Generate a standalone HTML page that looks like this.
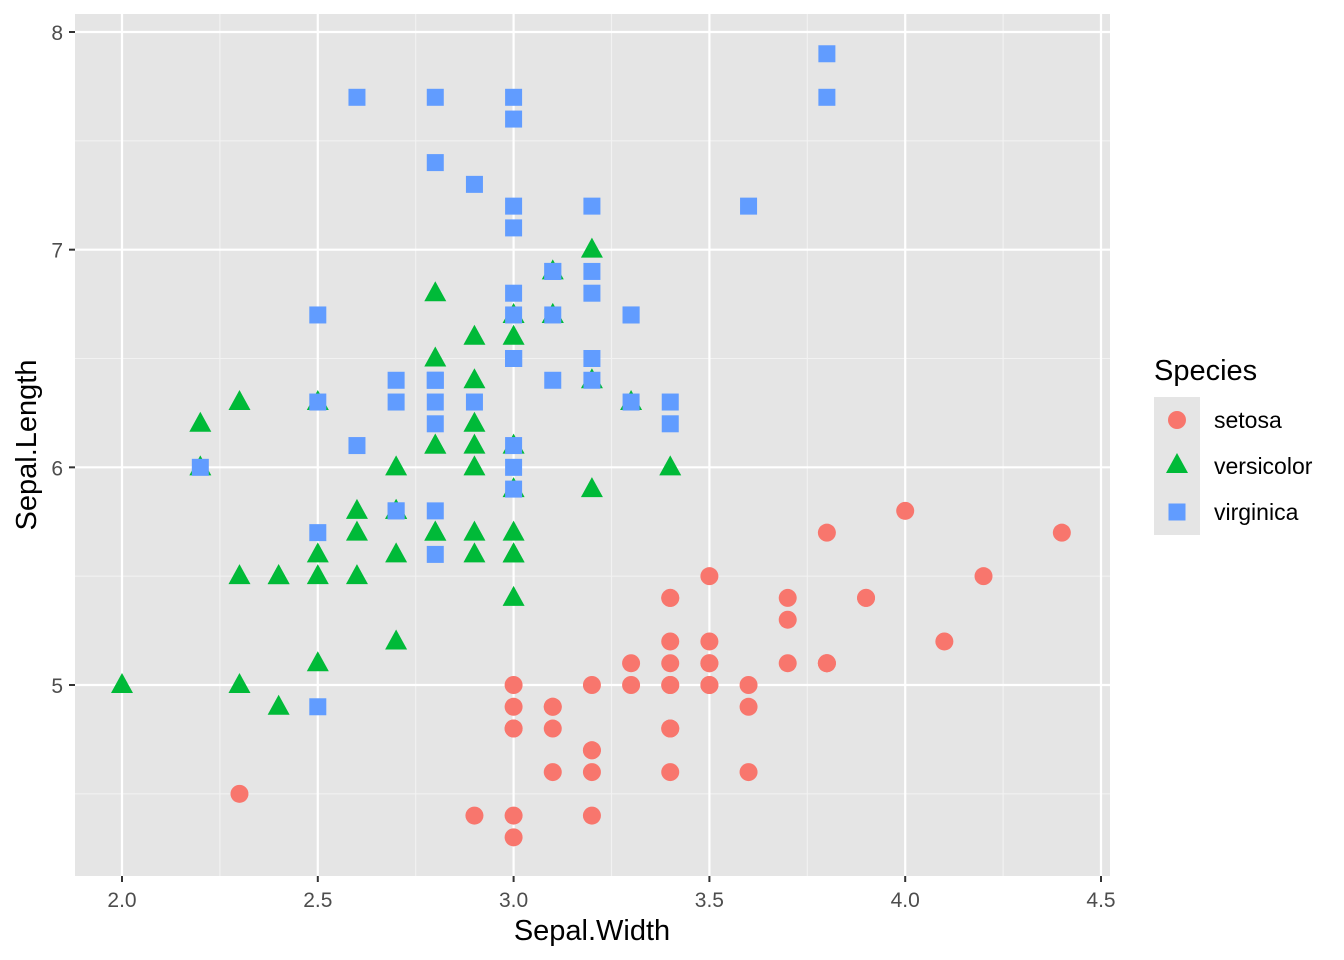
<!DOCTYPE html>
<html><head><meta charset="utf-8"><style>
html,body{margin:0;padding:0;background:#fff;}
svg{display:block;font-family:"Liberation Sans",Arial,sans-serif;}
</style></head><body>
<svg id="s" width="1344" height="960" xmlns="http://www.w3.org/2000/svg">
<rect width="1344" height="960" fill="#fff"/>
<rect x="75" y="14" width="1035" height="862" fill="#e5e5e5"/>
<g id="grid"></g>
<g id="pts"></g>
<g id="ax" font-size="21" fill="#4d4d4d"></g>
<text x="592" y="940" font-size="29" text-anchor="middle" fill="#000">Sepal.Width</text>
<text transform="translate(36,445) rotate(-90)" font-size="29" text-anchor="middle" fill="#000">Sepal.Length</text>
<text x="1154" y="380" font-size="29" fill="#000">Species</text>
<rect x="1154" y="397" width="46" height="138" fill="#e5e5e5"/>
<circle cx="1177" cy="420" r="9" fill="#F8766D"/>
<polygon points="1177,453 1188,473 1166,473" fill="#00BA38"/>
<rect x="1168.5" y="503.5" width="17" height="17" fill="#619CFF"/>
<text x="1214" y="428" font-size="23" fill="#000">setosa</text>
<text x="1214" y="474" font-size="23" fill="#000">versicolor</text>
<text x="1214" y="520" font-size="23" fill="#000">virginica</text>
</svg>
<script>
const X=v=>122+(v-2)*391.6, Y=v=>685-(v-5)*217.667;
const ns="http://www.w3.org/2000/svg";
function el(p,t,a){const e=document.createElementNS(ns,t);for(const k in a)e.setAttribute(k,a[k]);p.appendChild(e);return e;}
const g=document.getElementById('grid'),ax=document.getElementById('ax'),P=document.getElementById('pts');
for(let v=2.25;v<4.6;v+=0.5)el(g,'line',{x1:X(v),x2:X(v),y1:14,y2:876,stroke:'#f2f2f2','stroke-width':1.1});
for(let v=4.5;v<8.1;v+=1)el(g,'line',{y1:Y(v),y2:Y(v),x1:75,x2:1110,stroke:'#f2f2f2','stroke-width':1.1});
for(let v=2;v<4.55;v+=0.5){el(g,'line',{x1:X(v),x2:X(v),y1:14,y2:876,stroke:'#fff','stroke-width':2.2});
 el(ax,'line',{x1:X(v),x2:X(v),y1:876,y2:882,stroke:'#333','stroke-width':2});
 const t=el(ax,'text',{x:X(v),y:907,'text-anchor':'middle'});t.textContent=v.toFixed(1);}
for(let v=5;v<=8;v++){el(g,'line',{y1:Y(v),y2:Y(v),x1:75,x2:1110,stroke:'#fff','stroke-width':2.2});
 el(ax,'line',{x1:69,x2:75,y1:Y(v),y2:Y(v),stroke:'#333','stroke-width':2});
 const t=el(ax,'text',{x:63,y:Y(v)+8,'text-anchor':'end'});t.textContent=v;}
const d=[
[[5.1,4.9,4.7,4.6,5.0,5.4,4.6,5.0,4.4,4.9,5.4,4.8,4.8,4.3,5.8,5.7,5.4,5.1,5.7,5.1,5.4,5.1,4.6,5.1,4.8,5.0,5.0,5.2,5.2,4.7,4.8,5.4,5.2,5.5,4.9,5.0,5.5,4.9,4.4,5.1,5.0,4.5,4.4,5.0,5.1,4.8,5.1,4.6,5.3,5.0],
[3.5,3.0,3.2,3.1,3.6,3.9,3.4,3.4,2.9,3.1,3.7,3.4,3.0,3.0,4.0,4.4,3.9,3.5,3.8,3.8,3.4,3.7,3.6,3.3,3.4,3.0,3.4,3.5,3.4,3.2,3.1,3.4,4.1,4.2,3.1,3.2,3.5,3.6,3.0,3.4,3.5,2.3,3.2,3.5,3.8,3.0,3.8,3.2,3.7,3.3]],
[[7.0,6.4,6.9,5.5,6.5,5.7,6.3,4.9,6.6,5.2,5.0,5.9,6.0,6.1,5.6,6.7,5.6,5.8,6.2,5.6,5.9,6.1,6.3,6.1,6.4,6.6,6.8,6.7,6.0,5.7,5.5,5.5,5.8,6.0,5.4,6.0,6.7,6.3,5.6,5.5,5.5,6.1,5.8,5.0,5.6,5.7,5.7,6.2,5.1,5.7],
[3.2,3.2,3.1,2.3,2.8,2.8,3.3,2.4,2.9,2.7,2.0,3.0,2.2,2.9,2.9,3.1,3.0,2.7,2.2,2.5,3.2,2.8,2.5,2.8,2.9,3.0,2.8,3.0,2.9,2.6,2.4,2.4,2.7,2.7,3.0,3.4,3.1,2.3,3.0,2.5,2.6,3.0,2.6,2.3,2.7,3.0,2.9,2.9,2.5,2.8]],
[[6.3,5.8,7.1,6.3,6.5,7.6,4.9,7.3,6.7,7.2,6.5,6.4,6.8,5.7,5.8,6.4,6.5,7.7,7.7,6.0,6.9,5.6,7.7,6.3,6.7,7.2,6.2,6.1,6.4,7.2,7.4,7.9,6.4,6.3,6.1,7.7,6.3,6.4,6.0,6.9,6.7,6.9,5.8,6.8,6.7,6.7,6.3,6.5,6.2,5.9],
[3.3,2.7,3.0,2.9,3.0,3.0,2.5,2.9,2.5,3.6,3.2,2.7,3.0,2.5,2.8,3.2,3.0,3.8,2.6,2.2,3.2,2.8,2.8,2.7,3.3,3.2,2.8,3.0,2.8,3.0,2.8,3.8,2.8,2.8,2.6,3.0,3.4,3.1,3.0,3.1,3.1,3.1,2.7,3.2,3.3,3.0,2.5,3.0,3.4,3.0]]];
d.forEach((s,k)=>{for(let i=0;i<50;i++){const x=X(s[1][i]),y=Y(s[0][i]);
 if(k==0)el(P,'circle',{cx:x,cy:y,r:9,fill:'#F8766D'});
 else if(k==1)el(P,'polygon',{points:`${x},${y-12} ${x+11},${y+8} ${x-11},${y+8}`,fill:'#00BA38'});
 else el(P,'rect',{x:x-8.5,y:y-8.5,width:17,height:17,fill:'#619CFF'});}});
</script>
</body></html>
